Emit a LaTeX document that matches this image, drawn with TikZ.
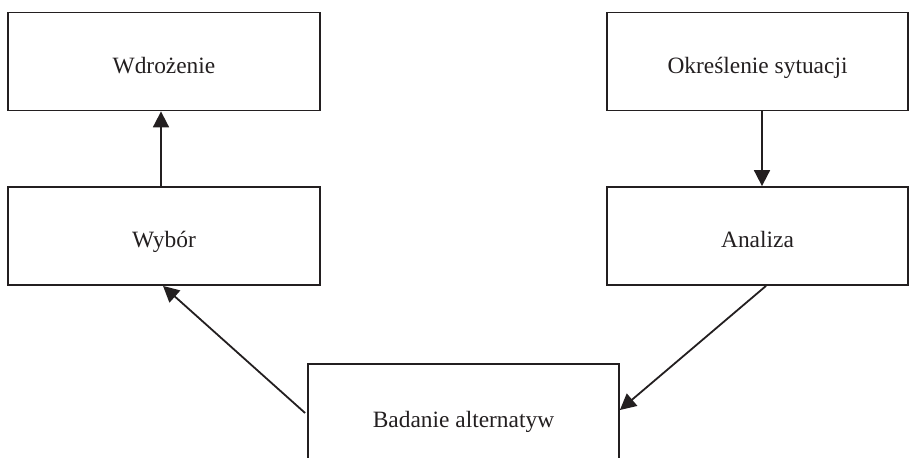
\documentclass[tikz,border=0pt]{standalone}
\usepackage{fontspec}
\setmainfont{Liberation Serif}
\usetikzlibrary{arrows.meta,calc}
\definecolor{ink}{HTML}{231F20}
\begin{document}
\begin{tikzpicture}[x=0.5pt,y=-0.5pt,
  box/.style={draw=ink,line width=0.9pt,rectangle,inner sep=0pt,
    text=ink,font=\fontsize{11.7}{14}\selectfont,text height=11.5pt,text depth=0pt},
  conn/.style={draw=ink,line width=0.9pt,-{Triangle[length=8pt,width=8pt]}}]
\useasboundingbox (0,0) rectangle (911,457);
\node[box,minimum width=156pt,minimum height=49pt] (wdr) at (164,61.5) {Wdrożenie};
\node[box,minimum width=150.5pt,minimum height=49pt] (okr) at (757.5,61.5) {Określenie sytuacji};
\node[box,minimum width=156pt,minimum height=49pt] (wyb) at (164,236) {Wybór};
\node[box,minimum width=150.5pt,minimum height=49pt] (ana) at (757.5,236) {Analiza};
\node[box,minimum width=155.5pt,minimum height=52pt] (bad) at (463.5,416) {Badanie alternatyw};
\draw[conn] ($(wyb.north)+(-3,0)$) -- ($(wdr.south)+(-3,0)$);
\draw[conn] ($(okr.south)+(4.5,0)$) -- ($(ana.north)+(4.5,0)$);
\draw[conn] ($(ana.south)+(8.5,0)$) -- ($(bad.east)+(0,-6)$);
\draw[conn] ($(bad.west)+(-2,-3)$) -- ($(wyb.south)+(-1,0)$);
\end{tikzpicture}
\end{document}
